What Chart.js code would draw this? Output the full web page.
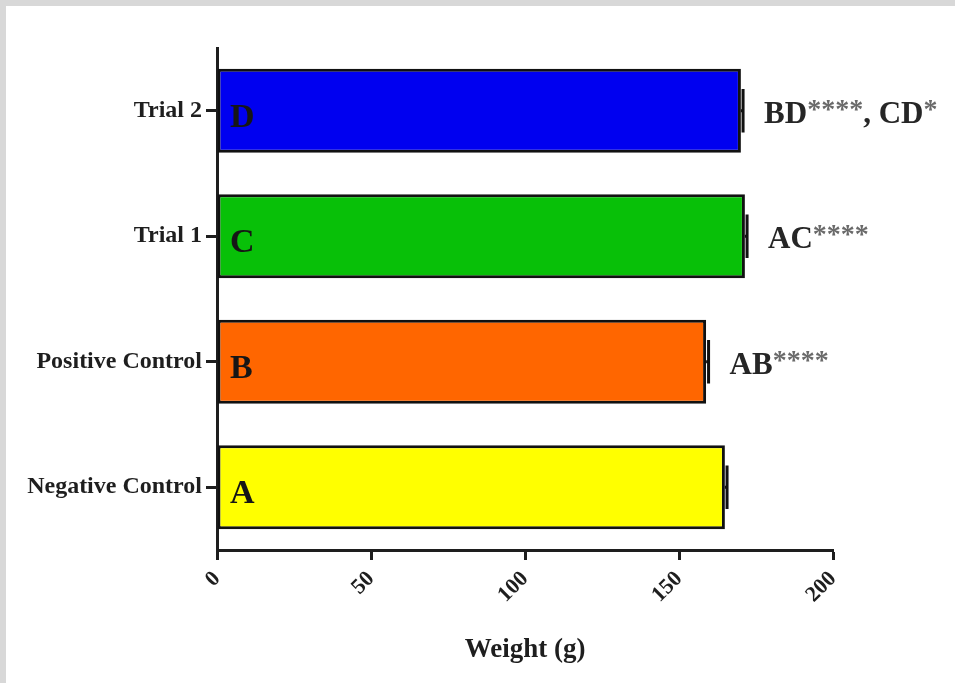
<!DOCTYPE html>
<html>
<head>
<meta charset="utf-8">
<script src="https://cdn.jsdelivr.net/npm/chart.js@4"></script>
<style>
  body { margin: 0; background: #d8d8d8; width: 955px; height: 683px; overflow: hidden; }
  #wrap { position: absolute; left: 6px; top: 6px; width: 949px; height: 677px; background: #fff; }
</style>
</head>
<body>
<div id="wrap"><canvas id="chart"></canvas></div>
<script>
const groups = ['Trial 2', 'Trial 1', 'Positive Control', 'Negative Control'];
const weights = [170.1, 171.4, 158.8, 164.9];
const errors = [0.7, 0.7, 0.8, 0.7];
const barLetters = ['D', 'C', 'B', 'A'];
const signif = ['BD****, CD*', 'AC****', 'AB****', ''];
const barColors = ['#0000f0', '#08c008', '#ff6600', '#ffff00'];
const xTicks = [0, 50, 100, 150, 200];

const SERIF = '"Liberation Serif", "Times New Roman", serif';
const INK = '#1e1e1e';

// error caps + letters + significance text
const extras = {
  id: 'extras',
  afterDatasetsDraw(chart) {
    const ctx = chart.ctx;
    const xs = chart.scales.x;
    const meta = chart.getDatasetMeta(0);
    ctx.save();
    meta.data.forEach((bar, i) => {
      const y = bar.y;
      const h = bar.height;
      const xEnd = xs.getPixelForValue(weights[i] + errors[i]);
      ctx.strokeStyle = '#111';
      ctx.lineWidth = 3;
      ctx.beginPath();
      ctx.moveTo(bar.x, y);
      ctx.lineTo(xEnd, y);
      ctx.moveTo(xEnd, y - h * 0.26);
      ctx.lineTo(xEnd, y + h * 0.26);
      ctx.stroke();

      ctx.fillStyle = '#161616';
      ctx.font = 'bold 34px ' + SERIF;
      ctx.textAlign = 'left';
      ctx.textBaseline = 'middle';
      ctx.fillText(barLetters[i], xs.getPixelForValue(0) + 13, y + 7);

      // significance label, asterisks a bit lighter and raised
      let x = xEnd + 21;
      signif[i].split(/(\*+)/).forEach(part => {
        if (!part) return;
        const star = part[0] === '*';
        ctx.font = 'bold ' + (star ? 28 : 31) + 'px ' + SERIF;
        ctx.fillStyle = star ? '#6a6a6a' : '#262626';
        ctx.fillText(part, x, y + (star ? 0 : 4));
        x += ctx.measureText(part).width;
      });
    });
    ctx.restore();
  }
};

new Chart(document.getElementById('chart'), {
  type: 'bar',
  plugins: [extras],
  data: {
    labels: groups,
    datasets: [{
      data: weights,
      backgroundColor: barColors,
      borderColor: '#111',
      borderWidth: 3,
      borderSkipped: false,
      categoryPercentage: 1,
      barPercentage: 0.67,
    }]
  },
  options: {
    indexAxis: 'y',
    responsive: true, maintainAspectRatio: false,
    animation: false,
    layout: { padding: { top: 42, right: 122, left: 0, bottom: 0 } },
    plugins: { legend: { display: false }, tooltip: { enabled: false } },
    scales: {
      y: {
        afterFit: s => { s.width = 211; },
        border: { color: INK, width: 3 },
        grid: { offset: false, drawOnChartArea: false, tickLength: 11, tickWidth: 3, tickColor: INK },
        ticks: { color: INK, padding: 4, font: { family: SERIF, size: 24, weight: 'bold' } },
      },
      x: {
        min: 0, max: 200,
        afterBuildTicks: s => { s.ticks = xTicks.map(v => ({ value: v })); },
        afterFit: s => { s.height = 133; },
        border: { color: INK, width: 3 },
        grid: { drawOnChartArea: false, tickLength: 10, tickWidth: 3, tickColor: INK },
        ticks: {
          color: INK, padding: 6, minRotation: 45, maxRotation: 45,
          font: { family: SERIF, size: 22, weight: 'bold' },
        },
        title: {
          display: true, text: 'Weight (g)', color: INK,
          padding: { top: 0, bottom: 17 },
          font: { family: SERIF, size: 27, weight: 'bold' },
        },
      }
    }
  }
});
</script>
</body>
</html>
